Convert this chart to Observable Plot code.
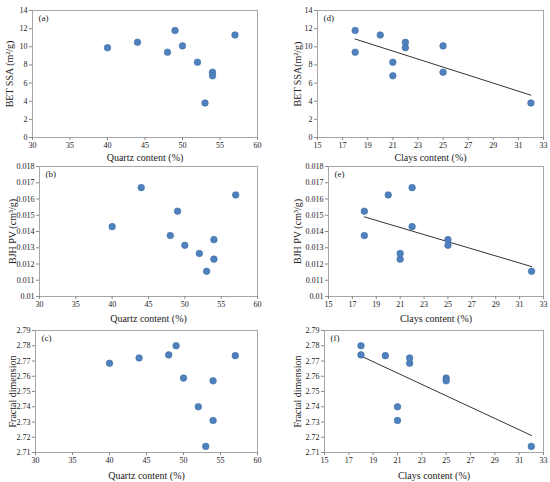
<!DOCTYPE html>
<html>
<head>
<meta charset="utf-8">
<script src="https://cdn.jsdelivr.net/npm/d3@7"></script>
<script src="https://cdn.jsdelivr.net/npm/@observablehq/plot@0.6"></script>
<style>
  html, body { margin: 0; padding: 0; background: #fff; }
  #chart { position: relative; width: 550px; height: 482px; background: #fff; overflow: hidden; }
  #chart svg { position: absolute; overflow: visible; }
</style>
</head>
<body>
<div id="chart"></div>
<script>
// ---- Data (10 samples) ----
const quartz = [40, 44, 48, 49, 50, 52, 53, 54, 54, 57];
const clays  = [22, 22, 18, 18, 25, 21, 32, 25, 21, 20];
const betSSA = [9.9, 10.5, 9.4, 11.8, 10.1, 8.3, 3.8, 7.2, 6.8, 11.3];
const bjhPV  = [0.0143, 0.0167, 0.01375, 0.01525, 0.01315, 0.01265, 0.01155, 0.0135, 0.0123, 0.01625];
const fractalD = [2.7685, 2.772, 2.774, 2.780, 2.7588, 2.740, 2.714, 2.757, 2.731, 2.7735];

// ---- Tick labels ----
const quartzTicks = [30, 35, 40, 45, 50, 55, 60];
const claysTicks = [15, 17, 19, 21, 23, 25, 27, 29, 31, 33];
const betTicks = [0, 2, 4, 6, 8, 10, 12, 14];
const bjhTicks = [0.01, 0.011, 0.012, 0.013, 0.014, 0.015, 0.016, 0.017, 0.018];
const fdTicks = [2.71, 2.72, 2.73, 2.74, 2.75, 2.76, 2.77, 2.78, 2.79];

const FONT = "'Liberation Serif', 'Times New Roman', serif";

function panel(o) {
  const data = o.x.map((v, i) => ({x: v, y: o.y[i]}));
  const marks = [
    Plot.frame({stroke: "#a6a6a6", strokeWidth: 1}),
    Plot.axisX({ticks: o.xTicks, tickSize: 3, tickPadding: 2, stroke: "#8a8a8a", fill: "#222", label: null, fontSize: 8}),
    Plot.axisY({ticks: o.yTicks, tickSize: 3, tickPadding: 2, stroke: "#8a8a8a", fill: "#222", label: null, fontSize: 8, tickFormat: o.yFormat}),
    Plot.text([o.xLabel], {frameAnchor: "bottom", dy: o.xLabelDy, lineAnchor: "middle", fontSize: 10, fill: "#222"}),
    Plot.text([o.yLabel], {frameAnchor: "left", dx: o.yLabelX - o.ml, rotate: -90, textAnchor: "middle", lineAnchor: "middle", fontSize: 10, fill: "#222"}),
    Plot.text([o.letter], {frameAnchor: "top-left", dx: 6, dy: 8, textAnchor: "start", lineAnchor: "middle", fontSize: 9, fill: "#222"})
  ];
  if (o.fit) marks.push(Plot.linearRegressionY(data, {x: "x", y: "y", ci: 0, stroke: "#333", strokeWidth: 1}));
  marks.push(Plot.dot(data, {x: "x", y: "y", r: 3.3, fill: "#4F81BD", stroke: "#3D6FA8", strokeWidth: 0.6}));
  const svg = Plot.plot({
    width: 275, height: o.h,
    marginLeft: o.ml, marginRight: o.mr, marginTop: o.mt, marginBottom: o.mb,
    style: {fontFamily: FONT, fontSize: "8px", background: "transparent", color: "#222", overflow: "visible"},
    x: {domain: o.xDomain},
    y: {domain: o.yDomain},
    marks
  });
  svg.style.left = o.left + "px";
  svg.style.top = o.top + "px";
  svg.style.overflow = "visible";
  document.getElementById("chart").appendChild(svg);
}

const fmt3 = d => String(+d.toFixed(3));
const fmt2 = d => d.toFixed(2);
const fmt0 = d => String(d);

// Row 1
panel({x: quartz, y: betSSA, xDomain: [30, 60], xTicks: quartzTicks, yDomain: [0, 14], yTicks: betTicks, yFormat: fmt0,
  xLabel: "Quartz content (%)", yLabel: "BET SSA (m²/g)", letter: "(a)", fit: false,
  left: 0, top: 0, h: 160, ml: 32, mr: 18, mt: 10, mb: 23, xLabelDy: 20, yLabelX: 9});
panel({x: clays, y: betSSA, xDomain: [15, 33], xTicks: claysTicks, yDomain: [0, 14], yTicks: betTicks, yFormat: fmt0,
  xLabel: "Clays content (%)", yLabel: "BET SSA(m²/g)", letter: "(d)", fit: true,
  left: 275, top: 0, h: 160, ml: 42, mr: 7, mt: 10, mb: 23, xLabelDy: 20, yLabelX: 22});
// Row 2
panel({x: quartz, y: bjhPV, xDomain: [30, 60], xTicks: quartzTicks, yDomain: [0.01, 0.018], yTicks: bjhTicks, yFormat: fmt3,
  xLabel: "Quartz content (%)", yLabel: "BJH PV (cm³/g)", letter: "(b)", fit: false,
  left: 0, top: 160, h: 160, ml: 39, mr: 18, mt: 6, mb: 24, xLabelDy: 22, yLabelX: 12});
panel({x: clays, y: bjhPV, xDomain: [15, 33], xTicks: claysTicks, yDomain: [0.01, 0.018], yTicks: bjhTicks, yFormat: fmt3,
  xLabel: "Clays content (%)", yLabel: "BJH PV (cm³/g)", letter: "(e)", fit: true,
  left: 275, top: 160, h: 160, ml: 53, mr: 7, mt: 6, mb: 24, xLabelDy: 22, yLabelX: 22});
// Row 3
panel({x: quartz, y: fractalD, xDomain: [30, 60], xTicks: quartzTicks, yDomain: [2.71, 2.79], yTicks: fdTicks, yFormat: fmt2,
  xLabel: "Quartz content (%)", yLabel: "Fractal dimension", letter: "(c)", fit: false,
  left: 0, top: 320, h: 162, ml: 35, mr: 18, mt: 10, mb: 30, xLabelDy: 23, yLabelX: 12});
panel({x: clays, y: fractalD, xDomain: [15, 33], xTicks: claysTicks, yDomain: [2.71, 2.79], yTicks: fdTicks, yFormat: fmt2,
  xLabel: "Clays content (%)", yLabel: "Fractal dimension", letter: "(f)", fit: true,
  left: 275, top: 320, h: 162, ml: 49, mr: 7, mt: 10, mb: 30, xLabelDy: 23, yLabelX: 22});
</script>
</body>
</html>
